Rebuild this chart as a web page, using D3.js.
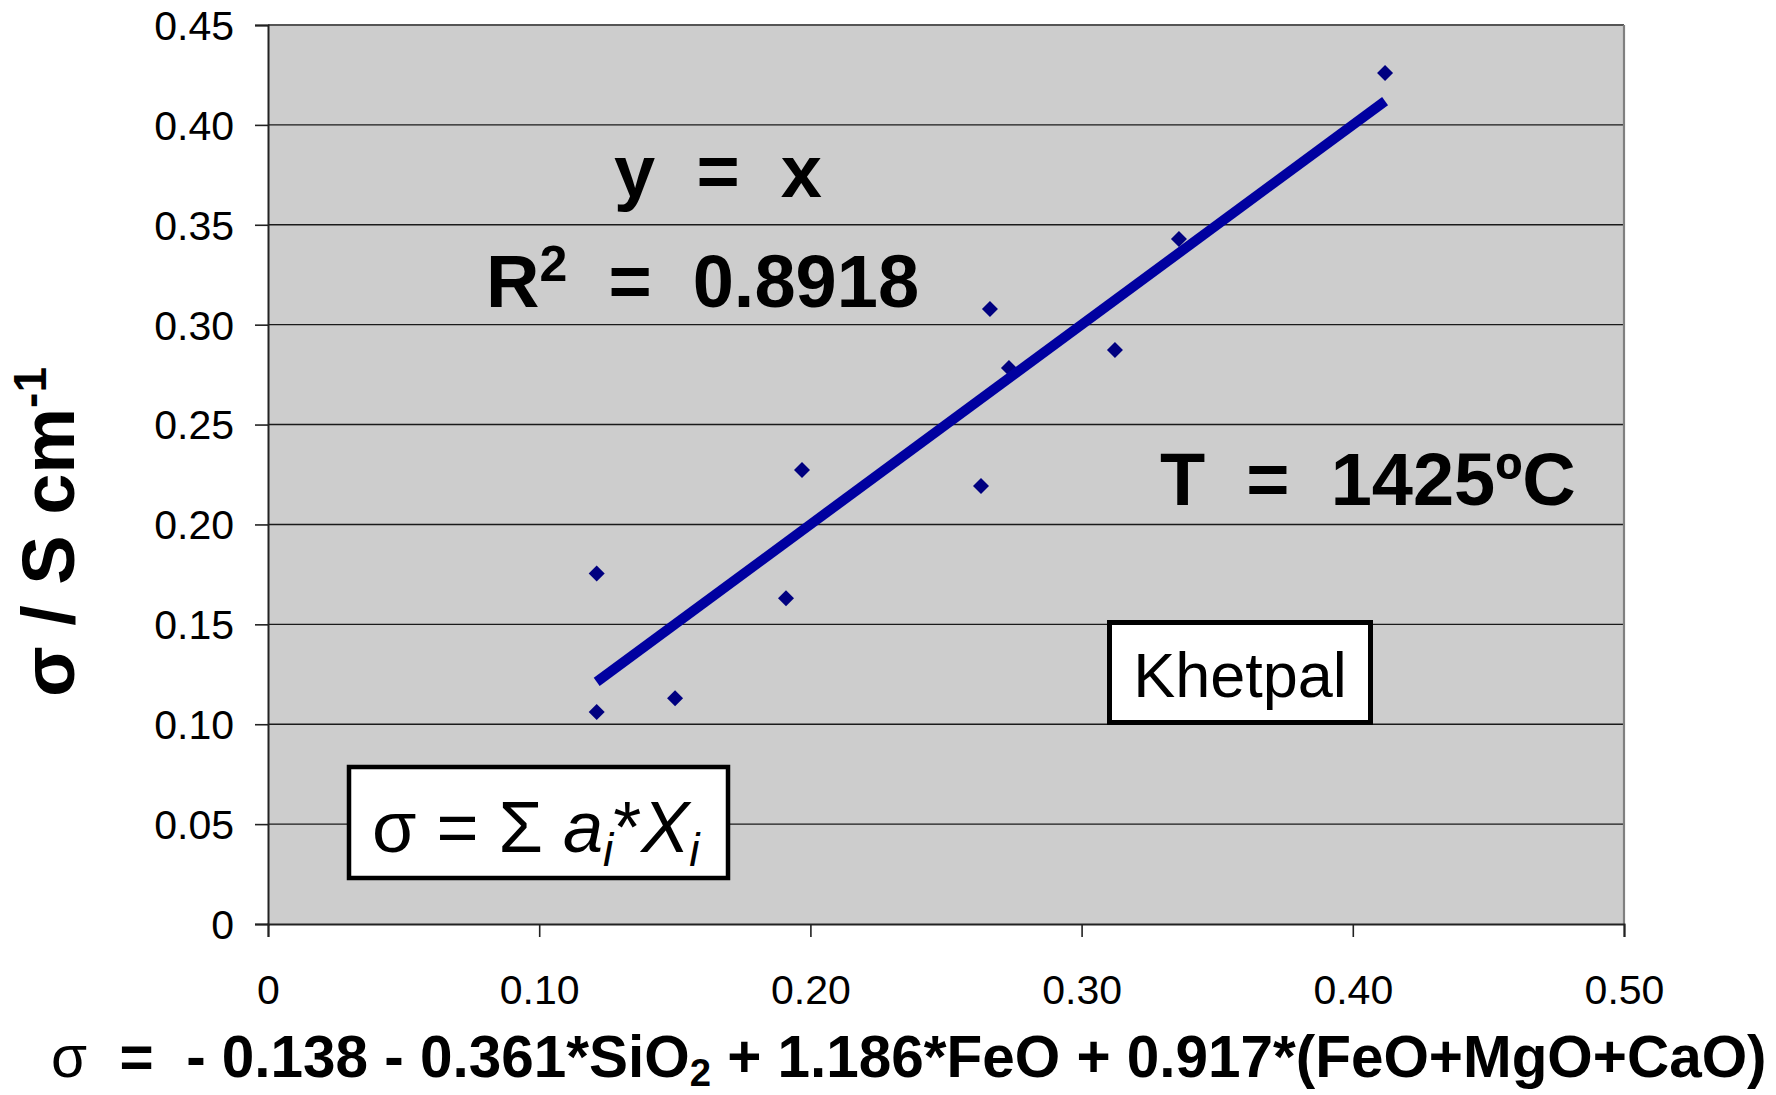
<!DOCTYPE html>
<html><head><meta charset="utf-8">
<script src="https://cdn.jsdelivr.net/npm/d3@7"></script>
<style>
html,body{margin:0;padding:0;background:#fff;}
svg{display:block;font-family:"Liberation Sans",Arial,sans-serif;}
</style></head>
<body>
<svg id="c" width="1776" height="1095"></svg>
<script>
// ---- data ----
const pointX = [0.1212, 0.1212, 0.1501, 0.1910, 0.1969, 0.2629, 0.2662, 0.2732, 0.3123, 0.3359, 0.4119];
const pointY = [0.1755, 0.1061, 0.1130, 0.1630, 0.2272, 0.2192, 0.3078, 0.2783, 0.2873, 0.3429, 0.4260];
const trendX = [0.1212, 0.4119];
const trendY = [0.1212, 0.4119];
const xTicks = [0, 0.10, 0.20, 0.30, 0.40, 0.50];
const yTicks = [0, 0.05, 0.10, 0.15, 0.20, 0.25, 0.30, 0.35, 0.40, 0.45];
const xDomain = [0, 0.5];
const yDomain = [0, 0.45];

const svg = d3.select("#c");
const L = 268, R = 1624, T = 25, B = 924;
const x = d3.scaleLinear().domain(xDomain).range([L, R]);
const y = d3.scaleLinear().domain(yDomain).range([B, T]);
const fmt = v => v === 0 ? "0" : v.toFixed(2);

// plot background
svg.append("rect").attr("x", L).attr("y", T).attr("width", R - L).attr("height", B - T)
  .attr("fill", "#cdcdcd");

// gridlines
svg.append("g").selectAll("line").data(yTicks.filter(v => v > 0)).join("line")
  .attr("x1", L).attr("x2", R).attr("y1", d => y(d)).attr("y2", d => y(d))
  .attr("stroke", "#1a1a1a").attr("stroke-width", 1.4);

// plot border top/right
svg.append("line").attr("x1", L).attr("x2", R).attr("y1", T).attr("y2", T)
  .attr("stroke", "#555").attr("stroke-width", 2.2);
svg.append("line").attr("x1", R).attr("x2", R).attr("y1", T).attr("y2", B)
  .attr("stroke", "#808080").attr("stroke-width", 2.2);

// axes
const yAxis = svg.append("g").attr("transform", `translate(${L},0)`)
  .call(d3.axisLeft(y).tickValues(yTicks).tickFormat(fmt).tickSize(13).tickPadding(21));
const xAxis = svg.append("g").attr("transform", `translate(0,${B})`)
  .call(d3.axisBottom(x).tickValues(xTicks).tickFormat(fmt).tickSize(13).tickPadding(38));
[yAxis, xAxis].forEach(g => {
  g.select(".domain").attr("stroke", "#222").attr("stroke-width", 2);
  g.selectAll(".tick line").attr("stroke", "#222").attr("stroke-width", 1.6);
  g.selectAll(".tick text").attr("fill", "#000").style("font-size", "41px")
    .style("font-family", '"Liberation Sans",Arial,sans-serif');
});
yAxis.selectAll(".tick text").attr("dy", "0.35em");
xAxis.selectAll(".tick text").attr("dy", "0.71em");

// markers
const pts = pointX.map((v, i) => [v, pointY[i]]);
svg.append("g").selectAll("path").data(pts).join("path")
  .attr("transform", d => `translate(${x(d[0])},${y(d[1])})`)
  .attr("d", "M0,-8L8,0L0,8L-8,0Z")
  .attr("fill", "#000080");

// trendline
svg.append("path")
  .datum(trendX.map((v, i) => [v, trendY[i]]))
  .attr("d", d3.line().x(d => x(d[0])).y(d => y(d[1])))
  .attr("stroke", "#0000a0").attr("stroke-width", 10).attr("fill", "none");

// annotations
const bold = s => s.style("font-weight", "bold").attr("fill", "#000");
bold(svg.append("text").attr("x", 718).attr("y", 197).attr("text-anchor", "middle")
  .style("font-size", "74px").attr("xml:space", "preserve").text("y  =  x"));
const r2 = bold(svg.append("text").attr("x", 486).attr("y", 307)
  .style("font-size", "74px").attr("xml:space", "preserve"));
r2.append("tspan").text("R");
r2.append("tspan").attr("dy", -26).style("font-size", "50px").text("2");
r2.append("tspan").attr("dy", 26).text("  =  0.8918");
bold(svg.append("text").attr("x", 1160).attr("y", 505)
  .style("font-size", "74px").attr("xml:space", "preserve").text("T  =  1425ºC"));

// Khetpal box
svg.append("rect").attr("x", 1109.5).attr("y", 622.5).attr("width", 261).attr("height", 100)
  .attr("fill", "#fff").attr("stroke", "#000").attr("stroke-width", 5);
svg.append("text").attr("x", 1240).attr("y", 697).attr("text-anchor", "middle")
  .style("font-size", "63px").attr("fill", "#000").text("Khetpal");

// sigma box
svg.append("rect").attr("x", 349).attr("y", 767).attr("width", 379).attr("height", 111)
  .attr("fill", "#fff").attr("stroke", "#000").attr("stroke-width", 4.5);
const sg = svg.append("text").attr("x", 372).attr("y", 852)
  .style("font-size", "72px").attr("fill", "#000").attr("xml:space", "preserve");
sg.append("tspan").text("σ = Σ ");
sg.append("tspan").style("font-style", "italic").text("a");
sg.append("tspan").style("font-style", "italic").style("font-size", "46px").attr("dy", 14).text("i");
sg.append("tspan").attr("dy", -14).text("*");
sg.append("tspan").style("font-style", "italic").text("X");
sg.append("tspan").style("font-style", "italic").style("font-size", "46px").attr("dy", 14).text("i");

// x title
const xt = svg.append("text").attr("x", 51).attr("y", 1077).attr("fill", "#000")
  .style("font-size", "55px").attr("xml:space", "preserve");
xt.append("tspan").style("font-weight", "normal").text("σ");
xt.append("tspan").style("font-weight", "bold").text("  =  - 0.138 - 0.361*SiO");
xt.append("tspan").style("font-weight", "bold").style("font-size", "36px").attr("dy", 9).text("2");
xt.append("tspan").style("font-weight", "bold").attr("dy", -9).text(" + 1.186*FeO + 0.917*(FeO+MgO+CaO)");
// fit width to the reference span
const w = xt.node().getComputedTextLength();
const target = 1767 - 51;
xt.style("font-size", (55 * target / w).toFixed(2) + "px");
xt.selectAll("tspan").filter((d, i) => i === 2).style("font-size", (36 * target / w).toFixed(2) + "px");

// y title
const yt = svg.append("text").attr("transform", "translate(74,532) rotate(-90)")
  .attr("text-anchor", "middle").attr("fill", "#000")
  .style("font-size", "74px").style("font-weight", "bold").attr("xml:space", "preserve");
yt.append("tspan").text("σ / S cm");
yt.append("tspan").attr("dy", -28).style("font-size", "46px").text("-1");
</script>
</body></html>
